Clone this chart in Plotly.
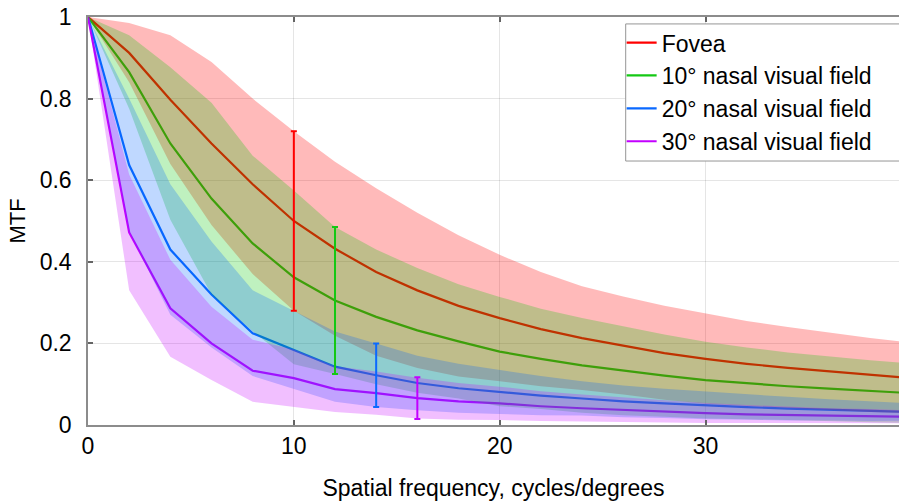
import plotly.graph_objects as go

# ---------------- data ----------------
freq = [0, 2, 4, 6, 8, 10, 12, 14, 16, 18, 20, 22, 24, 26, 28, 30, 32, 34, 36, 38, 40]

series_names = ["Fovea", "10° nasal visual field", "20° nasal visual field", "30° nasal visual field"]

fovea_mean = [1, 0.912, 0.797, 0.69, 0.59, 0.50, 0.432, 0.375, 0.33, 0.292, 0.262, 0.235, 0.213,
              0.195, 0.176, 0.162, 0.150, 0.140, 0.131, 0.122, 0.115]
fovea_upper = [1, 0.985, 0.955, 0.89, 0.80, 0.72, 0.645, 0.58, 0.52, 0.465, 0.417, 0.375, 0.34,
               0.315, 0.292, 0.274, 0.255, 0.24, 0.226, 0.213, 0.202]
fovea_lower = [1, 0.84, 0.64, 0.49, 0.37, 0.28, 0.219, 0.17, 0.14, 0.119, 0.107, 0.095, 0.086,
               0.075, 0.062, 0.052, 0.047, 0.041, 0.037, 0.032, 0.028]

n10_mean = [1, 0.865, 0.69, 0.555, 0.445, 0.362, 0.305, 0.265, 0.232, 0.205, 0.18, 0.162, 0.146,
            0.133, 0.121, 0.11, 0.102, 0.095, 0.089, 0.083, 0.078]
n10_upper = [1, 0.955, 0.877, 0.79, 0.66, 0.575, 0.485, 0.43, 0.385, 0.345, 0.314, 0.285, 0.262,
             0.242, 0.222, 0.204, 0.19, 0.178, 0.168, 0.159, 0.151]
n10_lower = [1, 0.775, 0.503, 0.32, 0.23, 0.149, 0.125, 0.10, 0.079, 0.065, 0.046, 0.039, 0.030,
             0.024, 0.020, 0.016, 0.014, 0.012, 0.010, 0.007, 0.005]

n20_mean = [1, 0.637, 0.43, 0.32, 0.225, 0.184, 0.143, 0.122, 0.103, 0.09, 0.081, 0.072, 0.065,
            0.058, 0.053, 0.048, 0.044, 0.040, 0.037, 0.034, 0.032]
n20_upper = [1, 0.80, 0.59, 0.45, 0.33, 0.28, 0.229, 0.20, 0.17, 0.15, 0.135, 0.12, 0.107,
             0.097, 0.089, 0.082, 0.075, 0.069, 0.063, 0.058, 0.053]
n20_lower = [1, 0.474, 0.27, 0.19, 0.12, 0.088, 0.057, 0.044, 0.036, 0.030, 0.027, 0.024, 0.023,
             0.019, 0.017, 0.014, 0.013, 0.011, 0.011, 0.010, 0.011]

n30_mean = [1, 0.472, 0.286, 0.20, 0.133, 0.115, 0.088, 0.078, 0.066, 0.058, 0.053, 0.046, 0.041,
            0.037, 0.032, 0.029, 0.026, 0.024, 0.022, 0.021, 0.020]
n30_upper = [1, 0.614, 0.405, 0.29, 0.209, 0.185, 0.144, 0.131, 0.116, 0.103, 0.094, 0.083, 0.075,
             0.068, 0.060, 0.054, 0.049, 0.045, 0.041, 0.039, 0.036]
n30_lower = [1, 0.33, 0.167, 0.11, 0.057, 0.045, 0.032, 0.025, 0.016, 0.013, 0.012, 0.010, 0.008,
             0.007, 0.006, 0.005, 0.005, 0.004, 0.004, 0.004, 0.004]

# error bars (one per series): x position, mean, half-width
err_x = [10, 12, 14, 16]
err_mean = [0.50, 0.305, 0.122, 0.066]
err_half = [0.22, 0.18, 0.078, 0.051]

x_ticks = [0, 10, 20, 30]
y_ticks = [0, 0.2, 0.4, 0.6, 0.8, 1]
y_tick_text = ["0", "0.2", "0.4", "0.6", "0.8", "1"]

# ---------------- style ----------------
line_colors = ["rgb(255,0,0)", "rgb(20,200,20)", "rgb(10,105,255)", "rgb(195,0,255)"]
fill_colors = ["rgba(255,0,0,0.27)", "rgba(0,200,0,0.25)", "rgba(0,100,255,0.25)", "rgba(200,0,255,0.25)"]
FONT = "Liberation Sans, Arial, Helvetica, sans-serif"

means = [fovea_mean, n10_mean, n20_mean, n30_mean]
uppers = [fovea_upper, n10_upper, n20_upper, n30_upper]
lowers = [fovea_lower, n10_lower, n20_lower, n30_lower]

fig = go.Figure()

# mean lines first (fills are drawn over them, as in the original)
for i in range(4):
    fig.add_trace(go.Scatter(
        x=freq, y=means[i], mode="lines", name=series_names[i],
        legendgroup=f"g{i}",
        line=dict(color=line_colors[i], width=2.2),
    ))

# shaded bands
for i in range(4):
    fig.add_trace(go.Scatter(
        x=freq + freq[::-1], y=uppers[i] + lowers[i][::-1],
        mode="lines", fill="toself", fillcolor=fill_colors[i],
        line=dict(width=0, color="rgba(0,0,0,0)"),
        showlegend=False, hoverinfo="skip",
    ))

# error bars
for i in range(4):
    fig.add_trace(go.Scatter(
        x=[err_x[i]], y=[err_mean[i]], mode="markers",
        marker=dict(size=1, color="rgba(0,0,0,0)"),
        error_y=dict(type="data", array=[err_half[i]], visible=True,
                     color=line_colors[i], thickness=2, width=3),
        showlegend=False, hoverinfo="skip",
    ))

# legend frame (runs past the right edge of the figure, as in the original)
fig.add_shape(
    type="rect", xref="paper", yref="paper",
    x0=0.663, x1=1.05, y0=0.647, y1=0.983,
    fillcolor="white", line=dict(color="rgb(150,150,150)", width=1),
    layer="above",
)

fig.update_layout(
    width=899, height=501,
    margin=dict(l=88, r=0, t=17, b=76),
    paper_bgcolor="white", plot_bgcolor="white",
    font=dict(family=FONT, size=23, color="black"),
    showlegend=True,
    legend=dict(
        x=0.658, y=0.99, xanchor="left", yanchor="top",
        bgcolor="rgba(0,0,0,0)", borderwidth=0,
        font=dict(family=FONT, size=23, color="black"),
        traceorder="grouped", tracegroupgap=0, itemwidth=30,
    ),
)

fig.update_xaxes(
    range=[0, 39.4], tickvals=x_ticks, ticktext=[str(v) for v in x_ticks],
    showgrid=True, gridcolor="rgba(0,0,0,0.10)", gridwidth=1,
    showline=True, linecolor="rgb(140,140,140)", linewidth=1.5, mirror="ticks",
    ticks="inside", ticklen=5, tickcolor="rgb(100,100,100)", tickwidth=1.5,
    zeroline=False, layer="above traces",
    tickfont=dict(size=23),
    title=dict(text="Spatial frequency, cycles/degrees", font=dict(size=23), standoff=26),
)
fig.update_yaxes(
    range=[0, 1], tickvals=y_ticks, ticktext=y_tick_text,
    showgrid=True, gridcolor="rgba(0,0,0,0.10)", gridwidth=1,
    showline=True, linecolor="rgb(140,140,140)", linewidth=1.5, mirror=False,
    ticks="inside", ticklen=5, tickcolor="rgb(100,100,100)", tickwidth=1.5,
    zeroline=False, layer="above traces",
    tickfont=dict(size=23), ticklabelstandoff=10,
    title=dict(text="MTF", font=dict(size=22), standoff=8),
)

fig.write_html("out.html")
